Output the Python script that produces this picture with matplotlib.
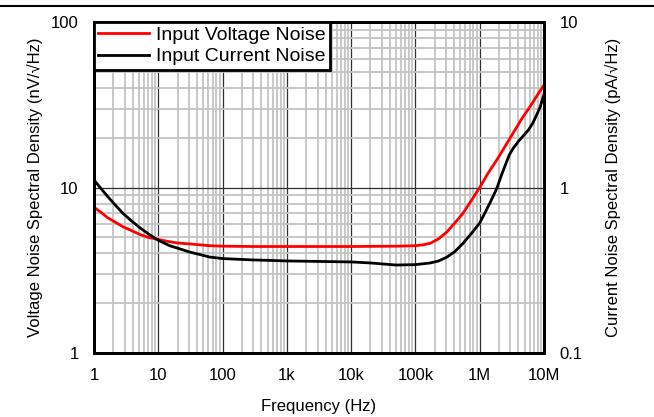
import matplotlib
matplotlib.use("Agg")
import matplotlib.pyplot as plt
from matplotlib.lines import Line2D
from matplotlib.ticker import LogLocator, FixedLocator, NullFormatter

plt.rcParams['font.family'] = ['Liberation Sans', 'DejaVu Sans']

freq_v = [1, 1.3, 1.6, 2.1, 2.8, 3.8, 5.2, 7, 10, 15, 20, 31, 45, 63, 100, 300, 1e3,
          1e4, 5e4, 1e5, 1.3e5, 1.7e5, 2.3e5, 3.1e5, 4.1e5, 5.5e5, 7.5e5, 1e6, 1.35e6,
          1.85e6, 2.5e6, 3.3e6, 4.5e6, 6e6, 8e6, 1e7]
voltage_noise = [7.6, 7.05, 6.6, 6.2, 5.8, 5.5, 5.2, 5.0, 4.85, 4.7, 4.62, 4.56, 4.5,
                 4.45, 4.42, 4.4, 4.4, 4.4, 4.42, 4.45, 4.5, 4.6, 4.9, 5.4, 6.1, 7.0,
                 8.4, 10.0, 12.2, 14.7, 17.8, 21.3, 26.0, 30.6, 36.5, 41.6]

freq_i = [1, 1.3, 1.6, 2.1, 2.8, 3.8, 5.2, 7, 10, 15, 20, 31, 45, 63, 100, 300, 1e3,
          1e4, 2e4, 5e4, 1e5, 1.7e5, 2.3e5, 3.1e5, 4.1e5, 5.5e5, 7.5e5, 1e6, 1.2e6,
          1.45e6, 1.85e6, 2.2e6, 2.6e6, 2.9e6, 3.3e6, 4e6, 4.7e6, 5.7e6, 6.7e6, 7.7e6,
          8.7e6, 1e7]
current_noise = [1.11, 0.98, 0.89, 0.79, 0.70, 0.63, 0.57, 0.525, 0.48, 0.445, 0.43,
                 0.407, 0.393, 0.38, 0.372, 0.365, 0.36, 0.355, 0.35, 0.34, 0.342,
                 0.35, 0.36, 0.38, 0.41, 0.46, 0.53, 0.61, 0.70, 0.81, 0.99, 1.2,
                 1.42, 1.58, 1.72, 1.9, 2.04, 2.22, 2.45, 2.75, 3.06, 3.65]

x_ticks = [1, 10, 100, 1e3, 1e4, 1e5, 1e6, 1e7]
x_labels = ['1', '10', '100', '1k', '10k', '100k', '1M', '10M']
yl_ticks = [1, 10, 100]
yl_labels = ['1', '10', '100']
yr_ticks = [0.1, 1, 10]
yr_labels = ['0.1', '1', '10']

FS = 12

fig = plt.figure(figsize=(6.54, 4.17), dpi=100)
ax = fig.add_axes([94/654, 1-353/417, 450/654, 331/417])
ax.set_xscale('log')
ax.set_yscale('log')
ax.set_xlim(1, 1e7)
ax.set_ylim(1, 100)

ax.xaxis.set_major_locator(FixedLocator(x_ticks))
ax.set_xticklabels(x_labels)
ax.xaxis.set_minor_locator(LogLocator(base=10, subs=range(2, 10), numticks=20))
ax.xaxis.set_minor_formatter(NullFormatter())
ax.yaxis.set_major_locator(FixedLocator(yl_ticks))
ax.set_yticklabels(yl_labels)
ax.yaxis.set_minor_locator(LogLocator(base=10, subs=range(2, 10), numticks=20))
ax.yaxis.set_minor_formatter(NullFormatter())

ax.grid(True, which='minor', color='#c4c4c4', lw=1.3)
ax.grid(True, which='major', color='#303030', lw=0.9)
ax.set_axisbelow(True)
ax.tick_params(which='both', length=0, labelsize=FS, pad=11, colors='black')

ax2 = ax.twinx()
ax2.set_yscale('log')
ax2.set_ylim(0.1, 10)
ax2.yaxis.set_major_locator(FixedLocator(yr_ticks))
ax2.set_yticklabels(yr_labels)
ax2.yaxis.set_minor_locator(FixedLocator([]))
ax2.tick_params(which='both', length=0, labelsize=FS, pad=11)

ax.plot(freq_v, voltage_noise, color='#ff0000', lw=2, zorder=3)
ax2.plot(freq_i, current_noise, color='black', lw=2, zorder=3)

for a in (ax, ax2):
    for s in a.spines.values():
        s.set_linewidth(2)
        s.set_color('black')

ax.set_xlabel('Frequency (Hz)', fontsize=FS, labelpad=11)
ax.set_ylabel('Voltage Noise Spectral Density (nV/\u221aHz)', fontsize=FS, labelpad=6)
ax2.set_ylabel('Current Noise Spectral Density (pA/\u221aHz)', fontsize=FS, labelpad=16)

handles = [Line2D([], [], color='#ff0000', lw=2), Line2D([], [], color='black', lw=2)]
leg = ax2.legend(handles, ['Input Voltage Noise', 'Input Current Noise'],
                 loc='upper left', bbox_to_anchor=(0, 1), fontsize=14,
                 frameon=True, fancybox=False, framealpha=1, edgecolor='black',
                 borderaxespad=0, handlelength=2.6, handletextpad=0.35,
                 labelspacing=0.2, borderpad=0.22)
leg.get_frame().set_linewidth(2)
leg.set_zorder(10)

fig.add_artist(Line2D([0, 1], [1-6/417, 1-6/417], color='black', lw=1.5))

fig.savefig('out.png', dpi=100)
